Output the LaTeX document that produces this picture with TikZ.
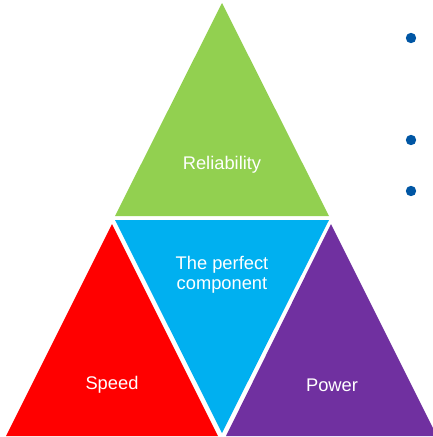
\documentclass[tikz,border=0pt]{standalone}
\usepackage{fontspec}
\setmainfont{Liberation Sans}
\definecolor{relgreen}{HTML}{92D050}
\definecolor{perfblue}{HTML}{00B0F0}
\definecolor{speedred}{HTML}{FF0000}
\definecolor{powpurple}{HTML}{7030A0}
\definecolor{dotblue}{HTML}{0056A4}
\tikzset{
  label/.style={text=white, font=\fontsize{18.3}{19.5}\selectfont, align=center, inner sep=0pt},
  bullet/.style={fill=dotblue}
}

\begin{document}
\begin{tikzpicture}[x=1pt, y=-1pt]
	\useasboundingbox (0,0) rectangle (433,437);

	% top triangle
	\coordinate (T1) at (222,3); \coordinate (T2) at (115,216); \coordinate (T3) at (329,216);
	\fill[relgreen] (T1) -- (T2) -- (T3) -- cycle;
	% middle, upside down
	\coordinate (M1) at (115,220); \coordinate (M2) at (329,220); \coordinate (M3) at (222,433);
	\fill[perfblue] (M1) -- (M2) -- (M3) -- cycle;
	% left and right
	\fill[speedred] (112,224) -- (6,436) -- (218,436) -- cycle;
	\fill[powpurple] (331,224) -- (226,436) -- (437,436) -- cycle;

	\node[label] (rel) at (222,165) {Reliability};
	\node[label] (perf) at (222,275) {The perfect\\component};
	\node[label] (speed) at (112,385) {Speed};
	\node[label] (power) at (332,385) {Power};

	% bullets
	\foreach \by in {38,140,191}
		\fill[bullet] (411,\by) circle [radius=5.2];

\end{tikzpicture}
\end{document}
